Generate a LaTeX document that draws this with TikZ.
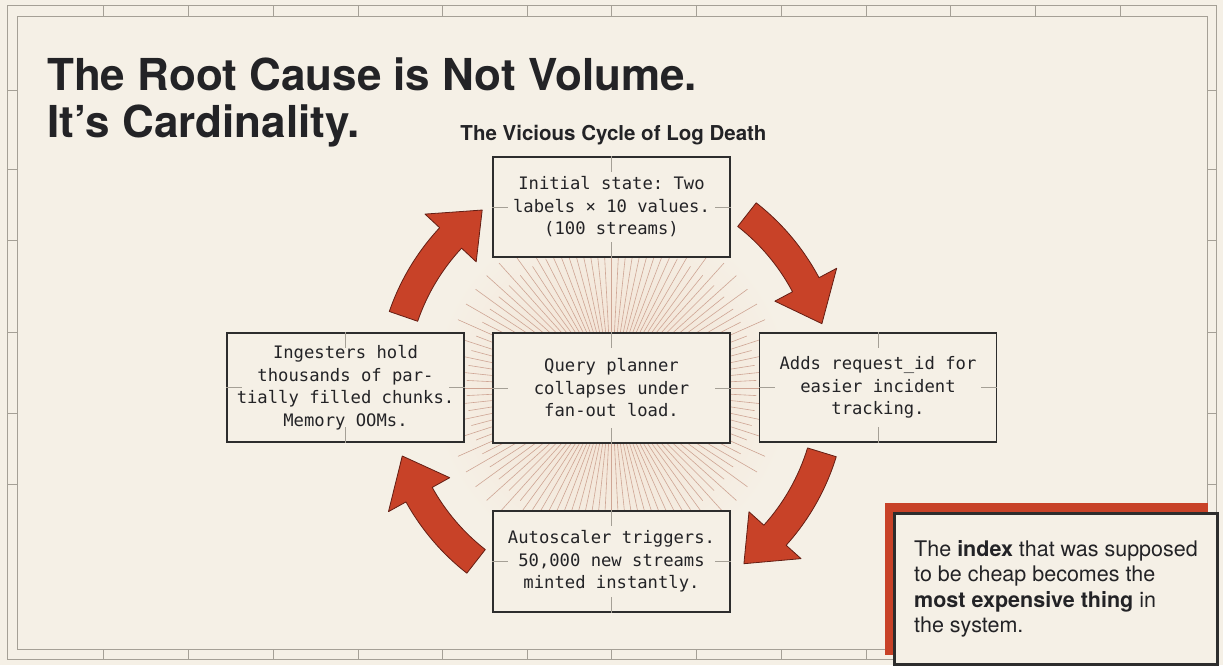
\documentclass[tikz,border=0pt]{standalone}
\usepackage{fontspec}
\setmainfont{TeX Gyre Heros}
\setmonofont{DejaVu Sans Mono}
\usepackage{xcolor}
\usepackage{tikz}
\usetikzlibrary{calc}

\definecolor{paper}{RGB}{245,240,230}
\definecolor{frameGray}{RGB}{165,160,150}
\definecolor{boxLine}{RGB}{45,45,45}
\definecolor{ink}{RGB}{35,35,38}
\definecolor{arrowRed}{RGB}{200,66,40}
\definecolor{arrowEdge}{RGB}{100,30,20}
\definecolor{rayColor}{RGB}{206,165,148}
\definecolor{glowColor}{RGB}{243,224,208}

% curved cycle arrow around the hub: tail angle, tip angle
\newcommand{\cyclearrow}[2]{%
  \pgfmathsetmacro{\headAng}{#2+11}%
  \filldraw[cycleArrow]
    ($(hub)+(#1:235)$) arc[start angle=#1, end angle=\headAng, radius=235pt]
    -- ($(hub)+(\headAng:255)$)
    -- ($(hub)+(#2:220)$)
    -- ($(hub)+(\headAng:185)$)
    -- ($(hub)+(\headAng:205)$) arc[start angle=\headAng, end angle=#1, radius=205pt]
    -- cycle;}

\begin{document}
\begin{tikzpicture}[x=1pt,y=1pt,
  frame/.style={draw=frameGray, line width=1pt},
  stepBox/.style={draw=boxLine, line width=1.4pt, fill=paper, inner sep=0pt,
    minimum width=237pt, minimum height=100pt, align=center, text=ink,
    font=\ttfamily\fontsize{17.2}{22.5}\selectfont},
  boxTick/.style={draw=frameGray, line width=0.9pt},
  ray/.style={draw=rayColor, line width=0.6pt},
  cycleArrow/.style={fill=arrowRed, draw=arrowEdge, line width=0.8pt, line join=round},
  calloutBox/.style={draw=boxLine, line width=3pt, fill=paper, inner sep=0pt,
    align=left, text=ink, font=\fontsize{21.5}{25.5}\selectfont}]

\fill[paper] (0,0) rectangle (1223,-665);
\useasboundingbox (0,0) rectangle (1223,-665);

% double frame with ticks
\draw[frame] (7,-5) rectangle (1216,-659);
\draw[frame] (17,-16) rectangle (1207,-649);
\foreach \x in {103,188,273,358,442,527,611,696,781,866,950,1035,1120}
  \draw[frame] (\x,-5) -- (\x,-16) (\x,-649) -- (\x,-659);
\foreach \y in {90,169,240,332,413,484}
  \draw[frame] (7,-\y) -- (17,-\y) (1207,-\y) -- (1216,-\y);

% titles
\node[anchor=base west, inner sep=0pt, text=ink, font=\bfseries\fontsize{44}{47}\selectfont] (titleA) at (47,-90) {The Root Cause is Not Volume.};
\node[anchor=base west, inner sep=0pt, text=ink, font=\bfseries\fontsize{44}{47}\selectfont] (titleB) at (47,-137) {It’s Cardinality.};
\node[anchor=base, inner sep=0pt, text=ink, font=\bfseries\fontsize{20.5}{24}\selectfont] (cycleTitle) at (613.5,-140) {The Vicious Cycle of Log Death};

% burst behind the middle box
\coordinate (hub) at (611.5,-388);
\shade[inner color=glowColor, outer color=paper] (hub) circle (180pt);
\foreach \a in {0,3,...,357} {
  \pgfmathsetmacro{\rayLen}{mod(\a,6)==0 ? 168 : 145}
  \draw[ray] ($(hub)+(\a:40)$) -- ($(hub)+(\a:\rayLen)$);
}

% the five boxes
\node[stepBox] (initBox) at (611.5,-207) {Initial state: Two\\labels × 10 values.\\(100 streams)};
\node[stepBox, minimum height=110pt] (queryBox) at (hub) {Query planner\\collapses under\\fan-out load.};
\node[stepBox, minimum height=109pt] (addsBox) at (878,-387.5) {Adds request\_id for\\easier incident\\tracking.};
\node[stepBox, minimum height=109pt] (ingestBox) at (345.5,-387.5) {Ingesters hold\\thousands of par-\\tially filled chunks.\\Memory OOMs.};
\node[stepBox, minimum height=101pt] (autoBox) at (611.5,-561.5) {Autoscaler triggers.\\50,000 new streams\\minted instantly.};

\foreach \n in {initBox,queryBox,addsBox,ingestBox,autoBox} {
  \draw[boxTick] (\n.north) -- ++(0,-16);
  \draw[boxTick] (\n.south) -- ++(0,16);
  \draw[boxTick] (\n.west) -- ++(16,0);
  \draw[boxTick] (\n.east) -- ++(-16,0);
}

% cycle arrows
\cyclearrow{161}{126}
\cyclearrow{52}{17}
\cyclearrow{-17}{-53}
\cyclearrow{232}{198}

% callout
\fill[arrowRed] (885,-503) rectangle (1208,-655);
\node[calloutBox, minimum width=323pt, minimum height=151pt, anchor=north west] (calloutBox) at (893,-512)
  {The \textbf{index} that was supposed\\to be cheap becomes the\\\textbf{most expensive thing} in\\the system.};

\end{tikzpicture}
\end{document}
